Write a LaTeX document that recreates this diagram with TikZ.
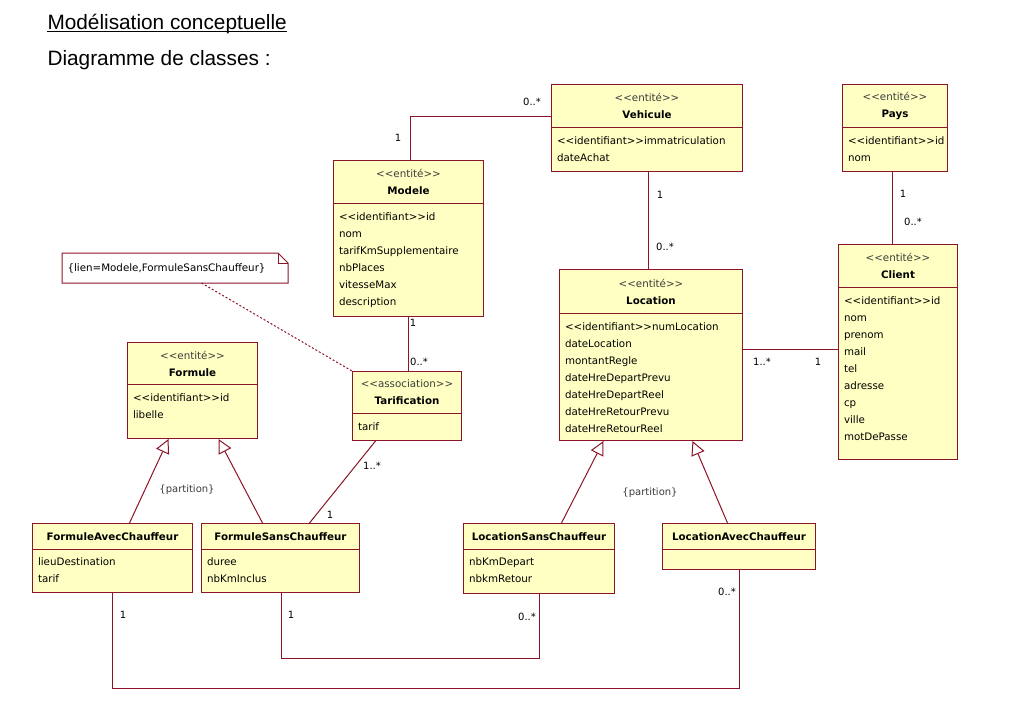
\documentclass[tikz,border=0pt]{standalone}
\usepackage{fontspec}
\setmainfont{Liberation Sans}
\newfontfamily\umlfont[Ligatures=TeXOff]{DejaVu Sans}
\usetikzlibrary{arrows.meta,positioning,calc}
\definecolor{umlline}{RGB}{140,20,40}
\definecolor{umlfill}{RGB}{255,255,196}
\definecolor{umlgrey}{RGB}{60,60,60}
\newcommand{\stereo}[1]{{\color{umlgrey}<<#1>>}}
\tikzset{
    every picture/.style={line width=1pt},
    cls/.style 2 args={draw=umlline,fill=umlfill,anchor=north west,minimum width=#1,minimum height=#2,inner sep=0pt},
    hdr/.style 2 args={draw=umlline,fill=umlfill,anchor=north west,minimum width=#1,minimum height=#2,inner sep=0pt,align=center,font=\umlfont\fontsize{10.3}{17}\selectfont},
    attrs/.style={inner sep=0pt,align=left,font=\umlfont\fontsize{10.3}{17}\selectfont},
    assoc/.style={draw=umlline},
    gen/.style={draw=umlline,-{Triangle[open,length=14pt,width=14pt,fill=white]}},
    mult/.style={inner sep=0pt,font=\umlfont\fontsize{10}{12}\selectfont},
    titre/.style={anchor=base west,inner sep=0pt,font=\fontsize{20.8}{24}\selectfont}
}
\begin{document}
\begin{tikzpicture}[x=1pt,y=-1pt]
    \fill[white] (0,0) rectangle (1011,720);
    % titres
    \node[titre] (titre) at (47,29) {Modélisation conceptuelle};
    \draw[line width=1.3pt] ([yshift=-2.5pt]titre.base west) -- ([yshift=-2.5pt]titre.base east);
    \node[titre] (soustitre) at (47,65) {Diagramme de classes :};

    % classes
    \node[cls={191}{87}] (vehicule) at (551,84) {};
    \node[hdr={191}{43}] (vehicule-h) at (vehicule.north west) {\stereo{entité}\\\textbf{Vehicule}};
    \node[attrs,below right=8.5pt and 5.5pt of vehicule-h.south west] (vehicule-a) {<<identifiant>>immatriculation\\dateAchat};

    \node[cls={105}{87}] (pays) at (842,84) {};
    \node[hdr={105}{43}] (pays-h) at (pays.north west) {\stereo{entité}\\\textbf{Pays}};
    \node[attrs,below right=8.5pt and 5.5pt of pays-h.south west] (pays-a) {<<identifiant>>id\\nom};

    \node[cls={150}{156}] (modele) at (333,160) {};
    \node[hdr={150}{43}] (modele-h) at (modele.north west) {\stereo{entité}\\\textbf{Modele}};
    \node[attrs,below right=8.5pt and 5.5pt of modele-h.south west] (modele-a) {<<identifiant>>id\\nom\\tarifKmSupplementaire\\nbPlaces\\vitesseMax\\description};

    \node[cls={183}{171}] (location) at (559,269) {};
    \node[hdr={183}{44}] (location-h) at (location.north west) {\stereo{entité}\\\textbf{Location}};
    \node[attrs,below right=8.5pt and 5.5pt of location-h.south west] (location-a) {<<identifiant>>numLocation\\dateLocation\\montantRegle\\dateHreDepartPrevu\\dateHreDepartReel\\dateHreRetourPrevu\\dateHreRetourReel};

    \node[cls={119}{215}] (client) at (838,244) {};
    \node[hdr={119}{43}] (client-h) at (client.north west) {\stereo{entité}\\\textbf{Client}};
    \node[attrs,below right=8.5pt and 5.5pt of client-h.south west] (client-a) {<<identifiant>>id\\nom\\prenom\\mail\\tel\\adresse\\cp\\ville\\motDePasse};

    \node[cls={130}{96}] (formule) at (127,342) {};
    \node[hdr={130}{42}] (formule-h) at (formule.north west) {\stereo{entité}\\\textbf{Formule}};
    \node[attrs,below right=8.5pt and 5.5pt of formule-h.south west] (formule-a) {<<identifiant>>id\\libelle};

    \node[cls={109}{69}] (tarif) at (352,371) {};
    \node[hdr={109}{42}] (tarif-h) at (tarif.north west) {\stereo{association}\\\textbf{Tarification}};
    \node[attrs,below right=8.5pt and 5.5pt of tarif-h.south west] (tarif-a) {tarif};

    \node[cls={160}{69}] (fac) at (32,523) {};
    \node[hdr={160}{26}] (fac-h) at (fac.north west) {\textbf{FormuleAvecChauffeur}};
    \node[attrs,below right=7.5pt and 5.5pt of fac-h.south west] (fac-a) {lieuDestination\\tarif};

    \node[cls={158}{69}] (fsc) at (201,523) {};
    \node[hdr={158}{26}] (fsc-h) at (fsc.north west) {\textbf{FormuleSansChauffeur}};
    \node[attrs,below right=7.5pt and 5.5pt of fsc-h.south west] (fsc-a) {duree\\nbKmInclus};

    \node[cls={151}{70}] (lsc) at (463,523) {};
    \node[hdr={151}{26}] (lsc-h) at (lsc.north west) {\textbf{LocationSansChauffeur}};
    \node[attrs,below right=7.5pt and 5.5pt of lsc-h.south west] (lsc-a) {nbKmDepart\\nbkmRetour};

    \node[cls={153}{46}] (lac) at (662,523) {};
    \node[hdr={153}{26}] (lac-h) at (lac.north west) {\textbf{LocationAvecChauffeur}};

    % note
    \node[anchor=north west,minimum width=225,minimum height=29,inner sep=0pt] (note) at (62,253) {};
    \draw[assoc,fill=white] (note.north west) -- ([xshift=-10pt]note.north east) -- ([yshift=-10pt]note.north east)
        -- (note.south east) -- (note.south west) -- cycle;
    \draw[assoc] ([xshift=-10pt]note.north east) |- ([yshift=-10pt]note.north east);
    \node[attrs,anchor=west] (note-t) at ([xshift=5pt]note.west) {\{lien=Modele,FormuleSansChauffeur\}};
    \draw[umlline,dash pattern=on 2pt off 2pt] ([xshift=26.5pt]note.south) -- (tarif.north west);

    % associations
    \draw[assoc] ([xshift=2pt]modele.north) |- ([yshift=-10.5pt]vehicule-h.west);
    \draw[assoc] ([xshift=1.5pt]vehicule.south) -- ([xshift=1.5pt]vehicule.south |- location.north);
    \draw[assoc] ([xshift=-2.5pt]pays.south) -- ([xshift=-2.5pt]pays.south |- client.north);
    \draw[assoc] ([yshift=2.5pt]client.west) -- ([yshift=2.5pt]client.west -| location.east);
    \draw[assoc] (modele.south) -- (modele.south |- tarif.north);
    \draw[assoc] ([xshift=-31.5pt]tarif.south) -- ([xshift=29pt]fsc.north);
    \draw[assoc] ([xshift=1pt]fsc.south) -- ++(0,-65pt) -| ([xshift=0.5pt]lsc.south);
    \draw[assoc] (fac.south) -- ++(0,-95pt) -| ([xshift=0.5pt]lac.south);

    % generalisations
    \draw[gen] ([xshift=17pt]fac.north) -- ([xshift=-24pt]formule.south);
    \draw[gen] ([xshift=-18pt]fsc.north) -- ([xshift=26pt]formule.south);
    \draw[gen] ([xshift=22.5pt]lsc.north) -- ([xshift=-47.5pt]location.south);
    \draw[gen] ([xshift=-11.5pt]lac.north) -- ([xshift=41.5pt]location.south);
    \node[mult,text=umlgrey] (part-f) at (187,490) {\{partition\}};
    \node[mult,text=umlgrey] (part-l) at (650,493) {\{partition\}};

    % multiplicites
    \node[mult] (mv-1) at (398,138) {1};
    \node[mult] (mv-n) at (532,102) {0..*};
    \node[mult] (vl-1) at (660,195) {1};
    \node[mult] (vl-n) at (665,247) {0..*};
    \node[mult] (pc-1) at (903,194) {1};
    \node[mult] (pc-n) at (913,222) {0..*};
    \node[mult] (lc-n) at (762,362) {1..*};
    \node[mult] (lc-1) at (818,362) {1};
    \node[mult] (mt-1) at (413,323) {1};
    \node[mult] (mt-n) at (419,362) {0..*};
    \node[mult] (tf-n) at (372,466) {1..*};
    \node[mult] (tf-1) at (330,515) {1};
    \node[mult] (fl-1) at (291,615) {1};
    \node[mult] (fl-n) at (527,617) {0..*};
    \node[mult] (fa-1) at (123,615) {1};
    \node[mult] (fa-n) at (727,592) {0..*};
\end{tikzpicture}
\end{document}
